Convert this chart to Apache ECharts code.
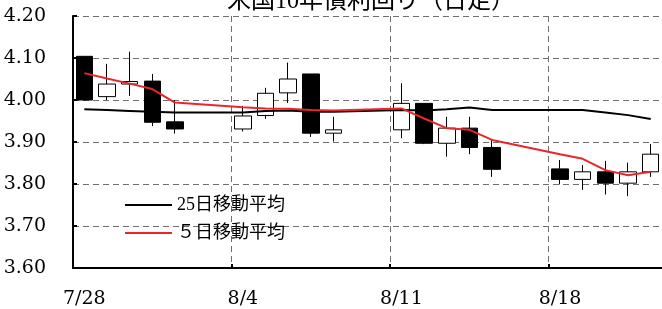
<!DOCTYPE html>
<html>
<head>
<meta charset="utf-8">
<script src="https://cdn.jsdelivr.net/npm/echarts@6/dist/echarts.min.js"></script>
<style>html,body{margin:0;padding:0;background:#fff}#c{width:662px;height:309px}</style>
</head>
<body>
<div id="c"></div>
<script>
// Trading dates (2025)
const dates = ['7/28','7/29','7/30','7/31','8/1','8/4','8/5','8/6','8/7','8/8','8/11','8/12','8/13','8/14','8/15','8/18','8/19','8/20','8/21','8/22'];
const openV  = [4.104,4.008,4.038,4.045,3.948,3.931,3.963,4.017,4.062,3.921,3.929,3.992,3.897,3.933,3.887,3.836,3.811,3.829,3.802,3.829];
const closeV = [4.000,4.038,4.044,3.947,3.931,3.962,4.016,4.050,3.921,3.929,3.992,3.897,3.933,3.887,3.835,3.811,3.829,3.802,3.829,3.871];
const lowV   = [3.998,4.000,4.010,3.938,3.920,3.925,3.955,3.993,3.912,3.901,3.909,3.895,3.865,3.871,3.817,3.799,3.786,3.775,3.771,3.817];
const highV  = [4.104,4.086,4.115,4.062,4.000,3.986,4.029,4.089,4.062,3.960,4.040,3.992,3.960,3.960,3.905,3.857,3.845,3.855,3.851,3.895];
const ma25   = [3.978,3.976,3.974,3.972,3.970,3.970,3.974,3.975,3.972,3.972,3.976,3.975,3.978,3.982,3.976,3.976,3.976,3.970,3.964,3.955];
const ma5    = [4.064,4.051,4.039,4.026,3.994,3.983,3.980,3.979,3.976,3.975,3.980,3.956,3.933,3.929,3.905,3.871,3.860,3.833,3.821,3.829];
const xTickLabels = ['7/28','8/4','8/11','8/18'];
const yTicks = [3.6,3.7,3.8,3.9,4.0,4.1,4.2];
const seriesNames = ['25日移動平均','５日移動平均'];
const titleText = '米国10年債利回り（日足）';

const DAY = 86400000;
const base = new Date(2025, 6, 28).getTime();
function dayPos(s){ const p = s.split('/'); const t = new Date(2025, +p[0]-1, +p[1]).getTime(); return Math.round((t-base)/DAY) + 0.5; }
const xs = dates.map(dayPos);
const candle = dates.map((d,i)=>[xs[i], openV[i], closeV[i], lowV[i], highV[i]]);
const l25 = dates.map((d,i)=>[xs[i], ma25[i]]);
const l5 = dates.map((d,i)=>[xs[i], ma5[i]]);

const serif = '"Liberation Serif","Noto Sans CJK JP",serif';
const tickFont = '"DejaVu Serif",serif';
const grid = '#6f6f6f';
const chart = echarts.init(document.getElementById('c'), null, {renderer:'canvas'});
chart.setOption({
  animation:false,
  title:{text:titleText,left:222,top:-15,textStyle:{fontFamily:serif,fontSize:24,fontWeight:'normal',color:'#000'}},
  legend:{
    data:seriesNames, orient:'vertical', left:120, top:191, icon:'rect', itemWidth:47, itemHeight:2, itemGap:10,
    textStyle:{fontFamily:serif,fontSize:18,color:'#000'}
  },
  grid:{left:73,right:0,top:16,bottom:41,containLabel:false},
  xAxis:{
    type:'value', min:0, max:26, interval:7,
    axisLine:{show:true,onZero:false,lineStyle:{color:'#000',width:2}},
    axisTick:{show:true,inside:true,length:4,lineStyle:{color:'#000',width:2}},
    axisLabel:{
      showMaxLabel:false, margin:22, color:'#000',
      formatter:(v)=>{const k=Math.round(v/7); return (v%7===0 && xTickLabels[k]) ? '{a|' + xTickLabels[k] + '}' : '';},
      rich:{a:{fontFamily:tickFont,fontSize:19,color:'#000',padding:[0,0,0,22.6]}}
    },
    splitLine:{show:true,lineStyle:{color:grid,type:[6,4],width:1}}
  },
  yAxis:{
    type:'value', min:yTicks[0], max:yTicks[yTicks.length-1], interval:0.1,
    axisLine:{show:true,lineStyle:{color:'#000',width:2}},
    axisTick:{show:true,inside:true,length:4,lineStyle:{color:'#000',width:2}},
    axisLabel:{margin:27,fontFamily:tickFont,fontSize:19,color:'#000',formatter:(v)=>v.toFixed(2)},
    splitLine:{show:true,lineStyle:{color:grid,type:[6,4],width:1}}
  },
  series:[
    {type:'candlestick', data:candle, encode:{x:0,y:[1,2,3,4]}, barWidth:17, z:2,
     itemStyle:{color:'#ffffff',color0:'#000000',borderColor:'#000000',borderColor0:'#000000',borderWidth:1}},
    {name:seriesNames[0], type:'line', data:l25, symbol:'none', z:3, lineStyle:{color:'#000',width:2}, itemStyle:{color:'#000'}},
    {name:seriesNames[1], type:'line', data:l5, symbol:'none', z:3, lineStyle:{color:'#e8262b',width:2}, itemStyle:{color:'#e8262b'}}
  ]
});
</script>
</body>
</html>
